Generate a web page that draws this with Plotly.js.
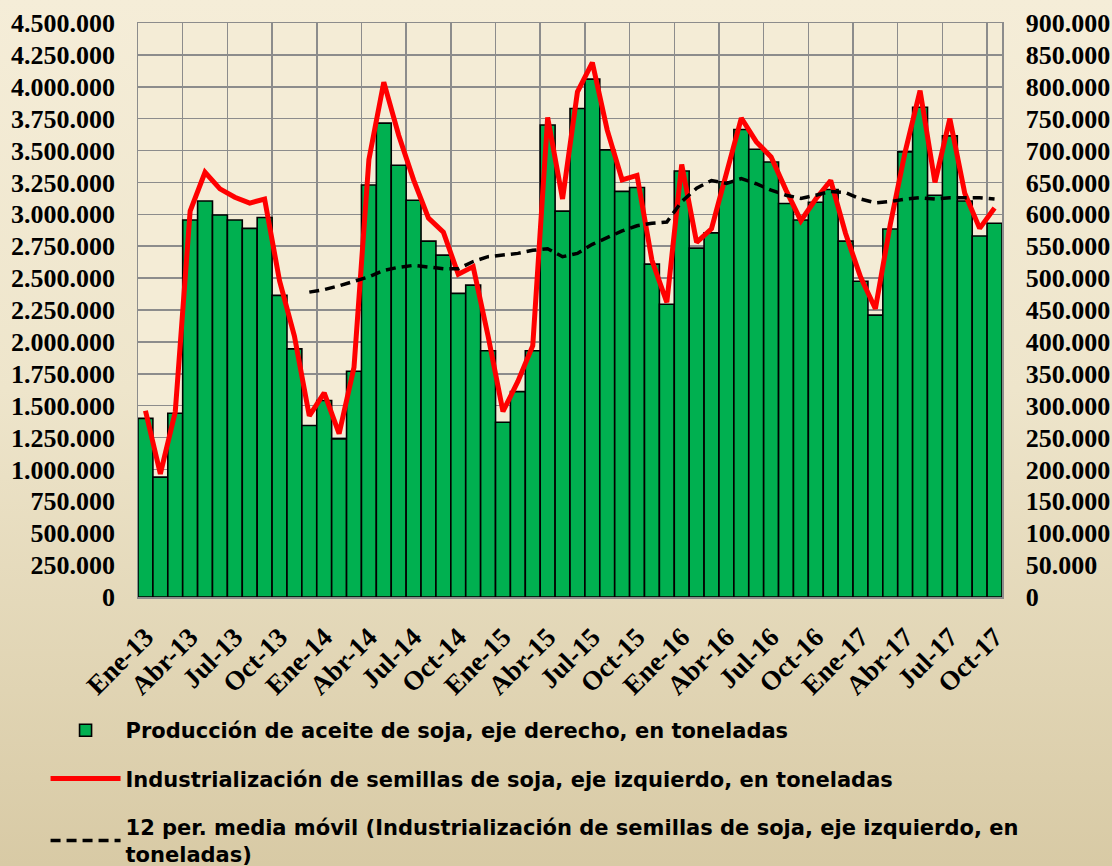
<!DOCTYPE html>
<html><head><meta charset="utf-8">
<script src="https://cdn.plot.ly/plotly-3.0.1.min.js"></script>
<style>
html,body{margin:0;padding:0;width:1112px;height:866px;overflow:hidden;
background:linear-gradient(to bottom,#F5EDD8 0%,#EEE5CB 45%,#D8CAA5 100%);}
#chart{width:1112px;height:866px;}
</style></head><body><div id="chart"></div>
<script>
const months = [
 "Ene-13","Feb-13","Mar-13","Abr-13","May-13","Jun-13","Jul-13","Ago-13","Sep-13","Oct-13","Nov-13","Dic-13",
 "Ene-14","Feb-14","Mar-14","Abr-14","May-14","Jun-14","Jul-14","Ago-14","Sep-14","Oct-14","Nov-14","Dic-14",
 "Ene-15","Feb-15","Mar-15","Abr-15","May-15","Jun-15","Jul-15","Ago-15","Sep-15","Oct-15","Nov-15","Dic-15",
 "Ene-16","Feb-16","Mar-16","Abr-16","May-16","Jun-16","Jul-16","Ago-16","Sep-16","Oct-16","Nov-16","Dic-16",
 "Ene-17","Feb-17","Mar-17","Abr-17","May-17","Jun-17","Jul-17","Ago-17","Sep-17","Oct-17"
];
// Producción de aceite de soja (eje derecho), toneladas
const aceite = [
 280000,188000,288000,591000,621000,599000,591000,578000,595000,473000,389000,269000,
 308000,248000,354000,646000,743000,677000,622000,558000,536000,476000,489000,386000,
 274000,322000,386000,740000,605000,766000,812000,701000,636000,642000,522000,459000,
 668000,547000,571000,651000,733000,702000,682000,617000,591000,619000,639000,558000,
 495000,442000,577000,698000,768000,630000,723000,621000,566000,586000
];
// Industrialización de semillas de soja (eje izquierdo), toneladas
const semillas = [
 1460000,965000,1450000,3025000,3330000,3200000,3134000,3088000,3120000,2480000,2046000,1420000,
 1600000,1280000,1800000,3430000,4036000,3620000,3270000,2970000,2860000,2530000,2590000,2046000,
 1455000,1690000,1970000,3760000,3120000,3960000,4190000,3660000,3270000,3305000,2640000,2310000,
 3390000,2780000,2887000,3320000,3755000,3570000,3450000,3190000,2950000,3120000,3265000,2850000,
 2510000,2260000,2920000,3490000,3970000,3250000,3750000,3165000,2890000,3050000
];
// 12 per. media móvil
const mediaMovil = [
 null,null,null,null,null,null,null,null,null,null,null,2390000,
 2410000,2440000,2475000,2510000,2560000,2585000,2600000,2590000,2574000,2574000,2630000,2668000,
 2680000,2694000,2718000,2730000,2668000,2694000,2765000,2820000,2870000,2910000,2930000,2940000,
 3100000,3205000,3265000,3243000,3280000,3240000,3190000,3150000,3125000,3150000,3180000,3170000,
 3120000,3090000,3100000,3120000,3130000,3120000,3130000,3130000,3130000,3120000
];
const names = [
 "Producción de aceite de soja, eje derecho, en toneladas",
 "Industrialización de semillas de soja, eje izquierdo, en toneladas",
 "12 per. media móvil (Industrialización de semillas de soja, eje izquierdo, en<br>toneladas)"
];

const idx = months.map((m,i)=>i);
const tickvals = idx.filter(i=>i%3===0);
const ticktext = tickvals.map(i=>months[i]);
const gridvals = tickvals.slice(1).map(v=>v-0.5);

function tickFont(s){ return {family:'"Liberation Serif", "Times New Roman", serif', size:s, color:'#000', weight:'bold'}; }
const gridCol = '#8C8C8C';

const data = [
 {type:'bar', x:idx, y:aceite, name:names[0], yaxis:'y', legendgroup:'a',
  marker:{color:'#00B050', line:{color:'#000', width:1.6}}, hoverinfo:'y'},
 {type:'scatter', mode:'lines', x:idx, y:semillas, name:names[1], yaxis:'y2', legendgroup:'b',
  line:{color:'#FF0000', width:5}},
 {type:'scatter', mode:'lines', x:idx, y:mediaMovil, name:names[2], yaxis:'y2', legendgroup:'c',
  line:{color:'#000', width:3.5, dash:'10px,6px'}, connectgaps:false}
];

const layout = {
 width:1112, height:866,
 paper_bgcolor:'rgba(0,0,0,0)', plot_bgcolor:'#F4ECD6',
 margin:{l:138, r:110, t:23, b:269, autoexpand:false},
 separators:',.',
 bargap:0,
 showlegend:true,
 xaxis:{range:[-0.5,57.5], tickmode:'array', tickvals:tickvals, ticktext:ticktext, tickangle:-45,
   tickfont:tickFont(27), ticklabelstandoff:12, showgrid:false, zeroline:false, showline:true,
   linecolor:gridCol, linewidth:1.5, mirror:true, ticks:'', automargin:false,
   minor:{tickvals:gridvals, showgrid:true, gridcolor:gridCol, gridwidth:1.5, ticks:''}},
 yaxis:{side:'right', range:[0,900000], tickmode:'linear', tick0:0, dtick:50000, tickformat:',d',
   showgrid:true, gridcolor:gridCol, gridwidth:1.5, tickfont:tickFont(26),
   ticklabelstandoff:17, showline:true, linecolor:gridCol, linewidth:1.5, mirror:true, zeroline:false,
   ticks:'', automargin:false},
 yaxis2:{overlaying:'y', side:'left', range:[0,4500000], tickmode:'linear', tick0:0, dtick:250000,
   tickformat:',d', showgrid:false, zeroline:false, showline:false, ticks:'',
   tickfont:tickFont(26), ticklabelstandoff:22, automargin:false},
 legend:{orientation:'v', x:-0.107, xanchor:'left', y:-0.197, yanchor:'top',
   font:{family:'"DejaVu Sans", Verdana, sans-serif', size:21, color:'#000', weight:'bold'},
   bgcolor:'rgba(0,0,0,0)', itemwidth:70, traceorder:'grouped', tracegroupgap:18}
};

Plotly.newPlot('chart', data, layout, {displayModeBar:false, staticPlot:true});
</script></body></html>
